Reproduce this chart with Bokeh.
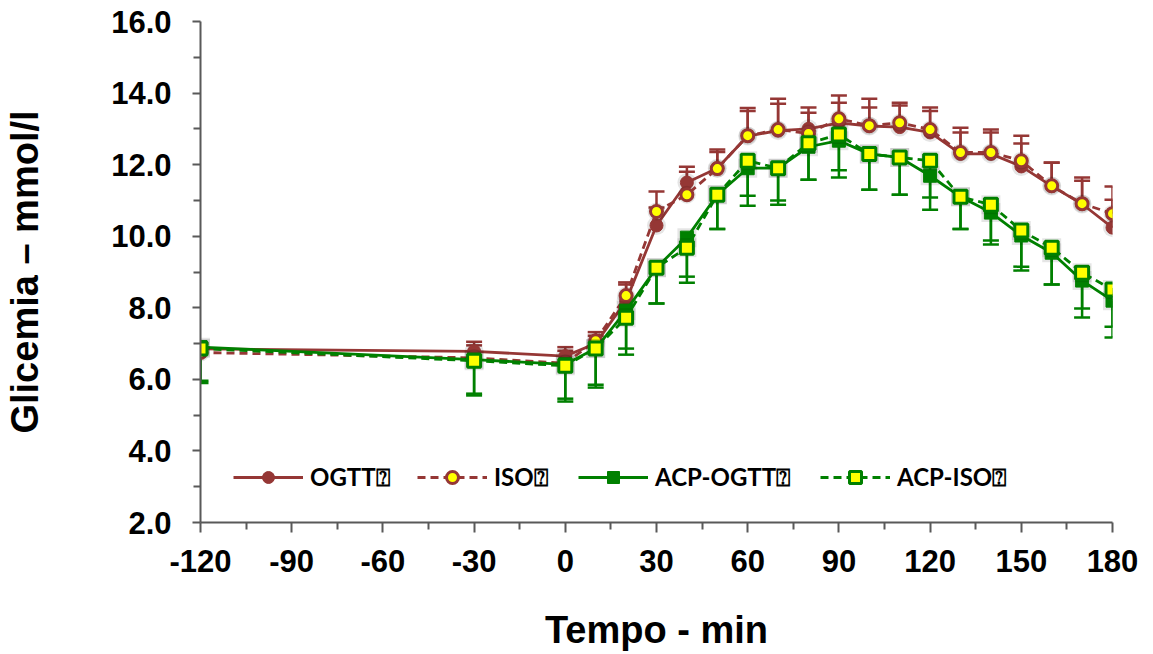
from bokeh.plotting import figure
from bokeh.models import (ColumnDataSource, Range1d, FixedTicker, Whisker, TeeHead,
                          Legend, LegendItem)
from bokeh.embed import file_html
from bokeh.resources import INLINE

# ---------------- data ----------------
time = [-120, -30, 0, 10, 20, 30, 40, 50, 60, 70, 80, 90, 100, 110, 120, 130, 140, 150, 160, 170, 180]

ogtt = [6.85, 6.78, 6.65, 7.00, 8.20, 10.30, 11.50, 11.90, 12.80, 12.95, 13.00, 13.17, 13.08, 13.05,
        12.90, 12.30, 12.30, 11.95, 11.40, 10.90, 10.24]
ogtt_err = [0.15, 0.27, 0.25, 0.22, 0.45, 0.50, 0.44, 0.45, 0.70, 0.75, 0.60, 0.56, 0.52, 0.60,
            0.60, 0.60, 0.60, 0.64, 0.65, 0.65, 0.78]

iso = [6.75, 6.60, 6.45, 7.08, 8.34, 10.69, 11.16, 11.89, 12.81, 12.98, 12.87, 13.28, 13.09, 13.17,
       12.98, 12.34, 12.34, 12.11, 11.41, 10.91, 10.63]
iso_err = [0.15, 0.35, 0.35, 0.24, 0.37, 0.56, 0.64, 0.53, 0.77, 0.86, 0.58, 0.65, 0.75, 0.56,
           0.62, 0.69, 0.64, 0.70, 0.65, 0.73, 0.76]

acp_ogtt = [6.90, 6.55, 6.42, 6.86, 7.92, 9.12, 9.96, 11.16, 11.90, 11.90, 12.50, 12.67, 12.30, 12.20,
            11.69, 11.10, 10.66, 10.02, 9.54, 8.76, 8.20]
acp_ogtt_err = [1.00, 1.00, 1.04, 1.09, 1.23, 1.00, 1.09, 0.96, 1.05, 1.02, 0.92, 1.03, 1.00, 1.04,
                0.95, 0.90, 0.89, 0.98, 0.89, 1.03, 1.03]

acp_iso = [6.86, 6.52, 6.38, 6.86, 7.72, 9.12, 9.68, 11.16, 12.11, 11.90, 12.60, 12.84, 12.30, 12.20,
           12.11, 11.10, 10.88, 10.16, 9.68, 8.98, 8.51]
acp_iso_err = [0.90, 0.92, 0.92, 1.01, 0.86, 1.00, 0.98, 0.96, 0.98, 0.90, 1.02, 1.00, 1.00, 1.04,
               1.03, 0.90, 1.00, 1.01, 1.03, 1.00, 1.04]

series_labels = ["OGTT\u2370", "ISO\u2370", "ACP-OGTT\u2370", "ACP-ISO\u2370"]
x_ticks = [-120, -90, -60, -30, 0, 30, 60, 90, 120, 150, 180]
x_tick_labels = ["-120", "-90", "-60", "-30", "0", "30", "60", "90", "120", "150", "180"]
x_minor = [-105, -75, -45, -15, 15, 45, 75, 105, 135, 165]
y_ticks = [2, 4, 6, 8, 10, 12, 14, 16]
y_tick_labels = ["2.0", "4.0", "6.0", "8.0", "10.0", "12.0", "14.0", "16.0"]
y_minor = [3, 5, 7, 9, 11, 13, 15]
x_title = "Tempo - min"
y_title = "Glicemia \u2013 mmol/l"

# ---------------- styles ----------------
RED = "#953735"
GREEN = "#008000"
YELLOW = "#FFFF00"
AXIS = "#595959"
TICK_FONT = "Liberation Sans"
LEG_FONT = "Lato"

p = figure(width=1153, height=654, output_backend="svg", toolbar_location=None,
           x_range=Range1d(-120, 180), y_range=Range1d(2, 16),
           min_border_left=200, min_border_right=41, min_border_top=21, min_border_bottom=132)
p.outline_line_color = None
p.grid.grid_line_color = None
p.background_fill_color = "white"
p.border_fill_color = "white"

# axes
p.xaxis.ticker = FixedTicker(ticks=x_ticks, minor_ticks=x_minor)
p.yaxis.ticker = FixedTicker(ticks=y_ticks, minor_ticks=y_minor)
p.xaxis.major_label_overrides = {t: l for t, l in zip(x_ticks, x_tick_labels)}
p.yaxis.major_label_overrides = {t: l for t, l in zip(y_ticks, y_tick_labels)}
for ax in (p.xaxis, p.yaxis):
    ax.axis_line_color = AXIS
    ax.axis_line_width = 2
    ax.major_tick_line_color = AXIS
    ax.major_tick_line_width = 2
    ax.minor_tick_line_color = AXIS
    ax.minor_tick_line_width = 2
    ax.major_tick_in = 0
    ax.minor_tick_in = 0
    ax.major_label_text_font = TICK_FONT
    ax.major_label_text_font_style = "bold"
    ax.major_label_text_font_size = "31px"
    ax.major_label_text_color = "black"
    ax.axis_label_text_font = TICK_FONT
    ax.axis_label_text_font_style = "bold"
    ax.axis_label_text_font_size = "38px"
    ax.axis_label_text_color = "black"
p.xaxis.major_tick_out = 10
p.xaxis.minor_tick_out = 7
p.yaxis.major_tick_out = 8
p.yaxis.minor_tick_out = 7
p.xaxis.major_label_standoff = 17
p.yaxis.major_label_standoff = 21
p.xaxis.axis_label = x_title
p.yaxis.axis_label = y_title
p.xaxis.axis_label_standoff = 34
p.yaxis.axis_label_standoff = 62


def add_series(vals, errs, up, color, dash, marker, fill, size, lw_out):
    src = ColumnDataSource(dict(
        x=time, y=vals,
        upper=[v + e for v, e in zip(vals, errs)] if up else vals,
        lower=vals if up else [v - e for v, e in zip(vals, errs)],
    ))
    head = TeeHead(size=16, line_color=color, line_width=2.5)
    w = Whisker(source=src, base="x", upper="upper", lower="lower", dimension="height",
                line_color=color, line_width=2.5,
                upper_head=head if up else None, lower_head=None if up else head)
    p.add_layout(w)
    # soft shadow
    p.scatter("x", "y", source=src, marker=marker, size=size + 6, fill_color="black",
              fill_alpha=0.10, line_color=None)
    lr = p.line("x", "y", source=src, line_color=color, line_width=2.8, line_dash=dash)
    sr = p.scatter("x", "y", source=src, marker=marker, size=size, fill_color=fill,
                   line_color=color, line_width=lw_out)
    return lr, sr


r1 = add_series(ogtt, ogtt_err, True, RED, "solid", "circle", RED, 13, 1)
r2 = add_series(iso, iso_err, True, RED, "8 5", "circle", YELLOW, 12, 3)
r3 = add_series(acp_ogtt, acp_ogtt_err, False, GREEN, "solid", "square", GREEN, 13, 1)
r4 = add_series(acp_iso, acp_iso_err, False, GREEN, "8 5", "square", YELLOW, 13, 3)

leg_x = [33, 217, 378, 620]
for rs, lab, lx in zip([r1, r2, r3, r4], series_labels, leg_x):
    lg = Legend(items=[LegendItem(label=lab, renderers=list(rs))], location=(lx, 30),
                orientation="horizontal", glyph_width=70, glyph_height=30, label_height=30,
                label_standoff=7, padding=0, margin=0, border_line_color=None,
                background_fill_alpha=0, label_text_font=LEG_FONT,
                label_text_font_style="bold", label_text_font_size="24px",
                label_text_color="black")
    p.add_layout(lg, "center")

open("out.html", "w").write(file_html(p, INLINE))
